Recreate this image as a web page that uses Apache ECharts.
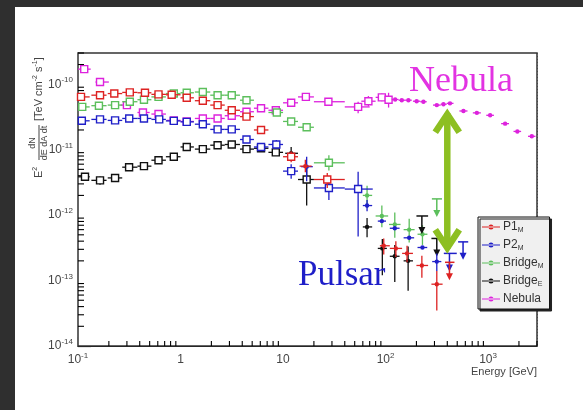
<!DOCTYPE html>
<html><head><meta charset="utf-8">
<script src="https://cdn.jsdelivr.net/npm/echarts@6/dist/echarts.min.js"></script>
<style>html,body{margin:0;padding:0;background:#2f2f2f;}#c{width:583px;height:410px;}</style>
</head><body><div id="c"></div>
<script>
// ---- axis ticks ----
const xTickValues = [0.1, 1, 10, 100, 1000];
const xTickLabels = ['10{s|-1}', '1', '10', '10{s|2}', '10{s|3}'];
const yTickValues = [1e-14, 1e-13, 1e-12, 1e-11, 1e-10];
const yTickLabels = ['10{s|-14}', '10{s|-13}', '10{s|-12}', '10{s|-11}', '10{s|-10}'];
const xRange = [0.1, 3000];
const yRange = [1e-14, 3e-10];
const minorMultipliers = [2, 3, 4, 5, 6, 7, 8, 9];

// ---- data: [E (GeV), E²dN/dE (TeV cm-2 s-1), E low, E high, F low, F high] ----
const p1Fermi = [
  [0.107,6.4e-11,0.1,0.13],[0.164,6.8e-11,0.135,0.19],[0.226,7.2e-11,0.195,0.27],[0.32,7.5e-11,0.27,0.38],
  [0.45,7.4e-11,0.38,0.52],[0.61,7.0e-11,0.52,0.72],[0.82,6.9e-11,0.72,1.0],[1.15,6.2e-11,1.0,1.35],
  [1.65,5.6e-11,1.38,1.95],[2.3,4.8e-11,1.95,2.7],[3.16,4.0e-11,2.7,3.8],[4.4,3.2e-11,3.8,5.2],
  [6.1,2.0e-11,5.2,7.2],[12,7.8e-12,10,14,6.4e-12,9.5e-12],[27,3.5e-12,20,40,2.6e-12,4.4e-12]
];
const p1Magic = [
  [16.5,5.6e-12,14.5,19,4.5e-12,7.0e-12],[96,3.4e-13,88,110,2.5e-13,4.4e-13],[126,3.1e-13,110,145,2.3e-13,4.0e-13],
  [162,2.6e-13,145,185,1.9e-13,3.4e-13],[226,1.7e-13,200,260,1.1e-13,2.4e-13],[316,8.8e-14,280,360,3.5e-14,1.4e-13]
];
const p1UL = [[420,1.9e-13,380,470]];

const p2Fermi = [
  [0.109,2.76e-11,0.1,0.13],[0.164,2.9e-11,0.135,0.19],[0.23,2.8e-11,0.195,0.27],[0.316,3.0e-11,0.27,0.38],
  [0.44,3.0e-11,0.38,0.52],[0.62,2.9e-11,0.52,0.72],[0.86,2.75e-11,0.72,1.0],[1.15,2.66e-11,1.0,1.35],
  [1.65,2.45e-11,1.38,1.95],[2.3,2.04e-11,1.95,2.7],[3.16,2.04e-11,2.7,3.8],[4.4,1.43e-11,3.8,5.2],
  [6.1,1.1e-11,5.2,7.2],[8.6,1.2e-11,7.2,10,1.05e-11,1.4e-11],[12,4.7e-12,10,14,3.6e-12,6.0e-12],
  [28,2.6e-12,20,40,1.7e-12,3.5e-12],[54,2.5e-12,40,75,4.7e-13,4.6e-12]
];
const p2Magic = [
  [17,5.5e-12,15,19.5,3.3e-12,7.8e-12],[66,1.4e-12,60,74,1.15e-12,1.7e-12],[92,8.1e-13,84,101],
  [123,6.3e-13,110,137],[170,4.5e-13,150,190],[229,3.2e-13,205,255],[316,1.95e-13,285,350,1.4e-13,2.6e-13]
];
const p2UL = [[420,2.6e-13,370,495],[570,3.9e-13,510,640]];

const bmFermi = [
  [0.11,4.5e-11,0.1,0.13],[0.16,4.7e-11,0.135,0.19],[0.23,4.8e-11,0.195,0.27],[0.32,5.4e-11,0.27,0.38],
  [0.44,5.8e-11,0.38,0.52],[0.61,6.4e-11,0.52,0.72],[0.86,7.2e-11,0.72,1.0],[1.15,7.4e-11,1.0,1.35],
  [1.65,7.6e-11,1.38,1.95],[2.3,6.8e-11,1.95,2.7],[3.16,6.8e-11,2.7,3.8],[4.4,5.7e-11,3.8,5.2],
  [8.7,3.7e-11,7.2,10],[12,2.7e-11,10,14],[17,2.2e-11,14,20],[28,6.3e-12,20,40,4.8e-12,8.2e-12]
];
const bmMagic = [
  [66,2.0e-12,60,74,1.3e-12,2.8e-12],[92,9.7e-13,80,106,6.5e-13,1.4e-12],[123,7.2e-13,108,140,4.5e-13,1.1e-12],
  [170,6.0e-13,150,192,3.8e-13,8.8e-13],[229,5.1e-13,205,256,3.5e-13,7.0e-13]
];
const bmUL = [[316,1.77e-12,283,355]];

const beFermi = [
  [0.117,3.85e-12,0.1,0.13],[0.164,3.4e-12,0.135,0.19,2.9e-12,3.9e-12],[0.23,3.7e-12,0.195,0.27],
  [0.315,5.4e-12,0.27,0.38],[0.44,5.6e-12,0.38,0.52],[0.61,6.9e-12,0.52,0.72],[0.86,7.8e-12,0.72,1.0],
  [1.15,1.1e-11,1.0,1.35],[1.65,1.02e-11,1.38,1.95],[2.3,1.17e-11,1.95,2.7],[3.16,1.2e-11,2.7,3.8],
  [4.4,1.02e-11,3.8,5.2],[6.1,1.05e-11,5.2,7.2],[8.5,9.1e-12,7.2,10],[17,3.5e-12,14,20,1.4e-12,5.5e-12]
];
const beMagic = [
  [12,8.8e-12,10.5,14,6.8e-12,1.1e-11],[66,6.6e-13,60,74,4.6e-13,9.0e-13],[93,3.1e-13,84,103,1.2e-13,4.3e-13],
  [123,2.35e-13,110,137,9.5e-14,3.5e-13],[166,2.0e-13,150,185,7.0e-14,3.3e-13]
];
const beUL = [[226,9.7e-13,200,260],[316,4.4e-13,280,345]];

const nebFermi = [
  [0.115,1.7e-10,0.1,0.133],[0.164,1.08e-10,0.148,0.2],[0.3,4.8e-11,0.26,0.345],[0.43,3.7e-11,0.38,0.5],
  [0.61,3.5e-11,0.52,0.72],[0.86,2.8e-11,0.73,1.0],[1.15,2.7e-11,1.0,1.35],[1.65,3.0e-11,1.38,1.95],
  [2.3,3.0e-11,1.95,2.7],[3.16,3.3e-11,2.7,3.8],[4.4,3.8e-11,3.8,5.2],[6.1,4.3e-11,5.2,7.2],
  [8.5,4.0e-11,7.2,10],[12,5.2e-11,10,14],[16.7,6.4e-11,14,20],[27.7,5.4e-11,20,40],
  [54,4.5e-11,40,70,3.6e-11,5.4e-11],[68,5.5e-11,58,80,4.6e-11,6.6e-11],[92,6.3e-11,80,105,5.5e-11,7.2e-11],
  [107,5.8e-11,100,118,4.4e-11,7.4e-11]
];
const nebMagic = [
  [124,5.85e-11,115,134],[144,5.7e-11,134,155],[167,5.7e-11,155,180],[201,5.5e-11,185,218],[234,5.4e-11,218,252],
  [316,4.8e-11,290,345],[367,4.95e-11,345,395],[425,5.1e-11,395,460],[575,3.9e-11,525,630],[777,3.65e-11,710,850],
  [1047,3.35e-11,960,1140],[1466,2.5e-11,1340,1600],[1930,1.9e-11,1770,2100],[2670,1.6e-11,2450,2900]
];

// arrow annotation: [E, F top, F bottom]
const arrowData = [[400, 4.0e-11, 2.75e-13]];

const seriesNames = ['P1_M', 'P2_M', 'Bridge_M', 'Bridge_E', 'Nebula'];
const legendLabels = ['P1{sub|M}', 'P2{sub|M}', 'Bridge{sub|M}', 'Bridge{sub|E}', 'Nebula'];
const colors = { 'P1_M': '#dd2222', 'P2_M': '#1f1fc8', 'Bridge_M': '#5cbf5c', 'Bridge_E': '#111111', 'Nebula': '#dd22dd' };

// ---- renderers ----
function renderPts(kind, color) {
  return function (params, api) {
    const E = api.value(0), F = api.value(1), El = api.value(2), Eh = api.value(3), Fl = api.value(4), Fh = api.value(5);
    const c = api.coord([E, F]), l = api.coord([El, F]), r = api.coord([Eh, F]);
    const ch = [{ type: 'line', shape: { x1: l[0], y1: c[1], x2: r[0], y2: c[1] }, style: { stroke: color, lineWidth: 1.3 } }];
    if (!isNaN(Fl) && !isNaN(Fh) && Fl !== '' && Fh !== '') {
      const lo = api.coord([E, Fl]), hi = api.coord([E, Fh]);
      ch.push({ type: 'line', shape: { x1: c[0], y1: lo[1], x2: c[0], y2: hi[1] }, style: { stroke: color, lineWidth: 1.3 } });
    }
    if (kind === 'fermi') {
      ch.push({ type: 'rect', shape: { x: c[0] - 3.5, y: c[1] - 3.5, width: 7, height: 7 }, style: { fill: '#fff', stroke: color, lineWidth: 1.4 } });
    } else {
      ch.push({ type: 'circle', shape: { cx: c[0], cy: c[1], r: 2.2 }, style: { fill: color } });
    }
    return { type: 'group', children: ch };
  };
}
function renderUL(color) {
  return function (params, api) {
    const E = api.value(0), F = api.value(1), El = api.value(2), Eh = api.value(3);
    const c = api.coord([E, F]), l = api.coord([El, F]), r = api.coord([Eh, F]);
    const len = 18;
    return { type: 'group', children: [
      { type: 'line', shape: { x1: l[0], y1: c[1], x2: r[0], y2: c[1] }, style: { stroke: color, lineWidth: 1.5 } },
      { type: 'line', shape: { x1: c[0], y1: c[1], x2: c[0], y2: c[1] + len - 4 }, style: { stroke: color, lineWidth: 1.5 } },
      { type: 'polygon', shape: { points: [[c[0] - 3.5, c[1] + len - 7], [c[0] + 3.5, c[1] + len - 7], [c[0], c[1] + len]] }, style: { fill: color } }
    ] };
  };
}
function renderArrow(params, api) {
  const t = api.coord([api.value(0), api.value(1)]), b = api.coord([api.value(0), api.value(2)]);
  const col = '#8dbf22', w = 6.5;
  return { type: 'group', children: [
    { type: 'line', shape: { x1: t[0], y1: t[1] + 3, x2: b[0], y2: b[1] - 3 }, style: { stroke: col, lineWidth: w } },
    { type: 'polyline', shape: { points: [[t[0] - 12, t[1] + 22], [t[0], t[1] + 4], [t[0] + 12, t[1] + 22]] }, style: { stroke: col, lineWidth: w, fill: null, lineJoin: 'miter' } },
    { type: 'polyline', shape: { points: [[b[0] - 12, b[1] - 22], [b[0], b[1] - 4], [b[0] + 12, b[1] - 22]] }, style: { stroke: col, lineWidth: w, fill: null, lineJoin: 'miter' } }
  ] };
}
function renderXMinor(params, api) {
  const p = api.coord([api.value(0), yRange[0]]);
  return { type: 'line', shape: { x1: p[0], y1: p[1], x2: p[0], y2: p[1] - 5 }, style: { stroke: '#000', lineWidth: 1.1 } };
}
function renderYMinor(params, api) {
  const p = api.coord([xRange[0], api.value(1)]);
  return { type: 'line', shape: { x1: p[0], y1: p[1], x2: p[0] + 6, y2: p[1] }, style: { stroke: '#000', lineWidth: 1.1 } };
}

// minor tick positions (axis structure)
const xMinor = [], yMinor = [];
xTickValues.forEach(d => minorMultipliers.forEach(m => { const v = d * m; if (v < xRange[1] * 1.0001) xMinor.push([v, yRange[0]]); }));
[1e-14, 1e-13, 1e-12, 1e-11, 1e-10].forEach(d => minorMultipliers.forEach(m => { const v = d * m; if (v < yRange[1] * 1.0001) yMinor.push([xRange[0], v]); }));

const dims = ['E', 'F', 'Elo', 'Ehi', 'Flo', 'Fhi'];
function pts(name, data, kind) {
  return { type: 'custom', name: name, coordinateSystem: 'cartesian2d', dimensions: dims, encode: { x: 0, y: 1 },
    data: data, renderItem: renderPts(kind, colors[name]), itemStyle: { color: colors[name] }, silent: true, z: 5 };
}
function uls(name, data) {
  return { type: 'custom', name: name, coordinateSystem: 'cartesian2d', dimensions: ['E', 'F', 'Elo', 'Ehi'], encode: { x: 0, y: 1 },
    data: data, renderItem: renderUL(colors[name]), itemStyle: { color: colors[name] }, silent: true, z: 5 };
}

function labelLookup(values, labels) {
  return function (v) {
    const i = values.findIndex(t => Math.abs(Math.log10(t) - Math.log10(v)) < 1e-6);
    return i >= 0 ? labels[i] : '';
  };
}

const axisFont = 'Liberation Sans';
const tickRich = {
  b: { fontSize: 12, lineHeight: 16, color: '#444', fontFamily: axisFont },
  s: { fontSize: 8, lineHeight: 8, verticalAlign: 'top', color: '#444', fontFamily: axisFont }
};
const legendIcon = 'path://M0,3.4H18V4.6H0Z M6.5,4a2.5,2.5 0 1,0 5,0a2.5,2.5 0 1,0 -5,0z';

const chart = echarts.init(document.getElementById('c'), null, { renderer: 'canvas' });
chart.setOption({
  animation: false,
  backgroundColor: '#2f2f2f',
  grid: { left: 78, top: 53, width: 459, height: 293, show: true, borderColor: '#333', borderWidth: 1.5, backgroundColor: '#fff', z: 1 },
  xAxis: {
    type: 'log', logBase: 10, min: xRange[0], max: xRange[1],
    axisLine: { show: true, lineStyle: { color: '#000', width: 1 } },
    axisTick: { show: true, inside: true, length: 9, lineStyle: { color: '#000', width: 1.2 } },
    axisLabel: { formatter: v => { const s = labelLookup(xTickValues, xTickLabels)(v); return s ? s.replace(/^([^{]+)/, '{b|$1}') : ''; },
      rich: tickRich, margin: 6, showMinLabel: true, showMaxLabel: false, hideOverlap: false },
    splitLine: { show: true, lineStyle: { color: '#888', type: [1, 2], width: 1 } }
  },
  yAxis: {
    type: 'log', logBase: 10, min: yRange[0], max: yRange[1],
    axisLine: { show: true, lineStyle: { color: '#000', width: 1 } },
    axisTick: { show: true, inside: true, length: 13, lineStyle: { color: '#000', width: 1.2 } },
    axisLabel: { formatter: v => { const s = labelLookup(yTickValues, yTickLabels)(v); return s ? s.replace(/^([^{]+)/, '{b|$1}') : ''; },
      rich: tickRich, margin: 5, showMinLabel: true, showMaxLabel: false, hideOverlap: false },
    splitLine: { show: true, lineStyle: { color: '#888', type: [1, 2], width: 1 } }
  },
  legend: {
    orient: 'vertical', left: 478, top: 217, width: 86,
    data: seriesNames.map(n => ({ name: n, icon: legendIcon })),
    formatter: n => legendLabels[seriesNames.indexOf(n)],
    itemWidth: 18, itemHeight: 5, itemGap: 4,
    padding: [3, 6, 3, 4],
    backgroundColor: '#f0f0f0', borderColor: '#111', borderWidth: 1,
    shadowColor: '#222', shadowOffsetX: 2, shadowOffsetY: 2, shadowBlur: 0,
    textStyle: { fontSize: 12, lineHeight: 14, color: '#333', fontFamily: axisFont, padding: [0, 0, 0, -2],
      rich: { sub: { fontSize: 7, lineHeight: 7, verticalAlign: 'bottom', color: '#333', fontFamily: axisFont } } },
    selectedMode: false
  },
  graphic: [
    { type: 'rect', shape: { x: 15, y: 7, width: 568, height: 403 }, style: { fill: '#ffffff' }, z: -10, silent: true },
    { type: 'group', x: 39, y: 178, rotation: Math.PI / 2, silent: true, children: [
      { type: 'text', x: 0, y: 0, style: { text: '{m|E}{s|2}', verticalAlign: 'middle', align: 'left',
        rich: { m: { fontSize: 11, lineHeight: 14, fontFamily: axisFont, fill: '#444' }, s: { fontSize: 7, lineHeight: 7, verticalAlign: 'top', fontFamily: axisFont, fill: '#444' } } } },
      { type: 'text', x: 35, y: -6, style: { text: 'dN', align: 'center', verticalAlign: 'middle', fontSize: 9, fontFamily: axisFont, fill: '#444' } },
      { type: 'rect', shape: { x: 18, y: -0.5, width: 35, height: 1 }, style: { fill: '#444' } },
      { type: 'text', x: 35, y: 6, style: { text: 'dE dA dt', align: 'center', verticalAlign: 'middle', fontSize: 9, fontFamily: axisFont, fill: '#444' } },
      { type: 'text', x: 57, y: 0, style: { text: '{m|[TeV cm}{s|-2}{m| s}{s|-1}{m|]}', verticalAlign: 'middle', align: 'left',
        rich: { m: { fontSize: 11, lineHeight: 14, fontFamily: axisFont, fill: '#444' }, s: { fontSize: 7, lineHeight: 7, verticalAlign: 'top', fontFamily: axisFont, fill: '#444' } } } }
    ] },
    { type: 'text', right: 583 - 537, top: 366, style: { text: 'Energy [GeV]', fontSize: 11, fontFamily: axisFont, fill: '#444' }, silent: true },
    { type: 'text', x: 409, y: 82, style: { text: 'Nebula', fontSize: 36, fontFamily: 'Liberation Serif', fill: '#e233e2', verticalAlign: 'middle' }, silent: true, z: 20 },
    { type: 'text', x: 298, y: 276, style: { text: 'Pulsar', fontSize: 35, fontFamily: 'Liberation Serif', fill: '#1e1ec8', verticalAlign: 'middle' }, silent: true, z: 20 }
  ],
  series: [
    { type: 'custom', name: 'xminor', coordinateSystem: 'cartesian2d', data: xMinor, renderItem: renderXMinor, silent: true, z: 3 },
    { type: 'custom', name: 'yminor', coordinateSystem: 'cartesian2d', data: yMinor, renderItem: renderYMinor, silent: true, z: 3 },
    pts('Nebula', nebFermi, 'fermi'), pts('Nebula', nebMagic, 'magic'),
    pts('Bridge_M', bmFermi, 'fermi'), pts('Bridge_M', bmMagic, 'magic'), uls('Bridge_M', bmUL),
    pts('Bridge_E', beFermi, 'fermi'), pts('Bridge_E', beMagic, 'magic'), uls('Bridge_E', beUL),
    pts('P2_M', p2Fermi, 'fermi'), pts('P2_M', p2Magic, 'magic'), uls('P2_M', p2UL),
    pts('P1_M', p1Fermi, 'fermi'), pts('P1_M', p1Magic, 'magic'), uls('P1_M', p1UL),
    { type: 'custom', name: 'arrow', coordinateSystem: 'cartesian2d', dimensions: ['E', 'Ftop', 'Fbot'], encode: { x: 0, y: 1 }, data: arrowData, renderItem: renderArrow, silent: true, z: 6 }
  ]
});
</script></body></html>
